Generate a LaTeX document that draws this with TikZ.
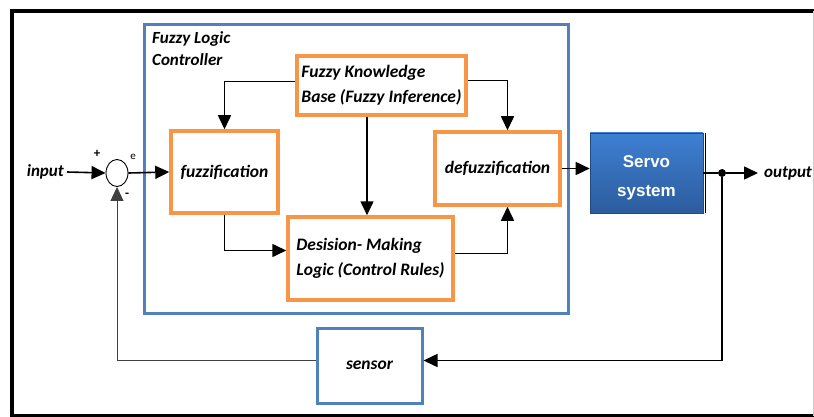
\documentclass[tikz,border=0pt]{standalone}
\usepackage{fontspec}
\setmainfont{Carlito}
\newfontfamily\servofont{Liberation Sans}
\usetikzlibrary{arrows.meta,calc,shapes.geometric}
\definecolor{orng}{HTML}{F79646}
\definecolor{bluel}{HTML}{4F81BD}
\definecolor{servotop}{HTML}{3E80D2}
\definecolor{servobot}{HTML}{2C5C9E}
\tikzset{
  obox/.style={draw=orng, line width=3.5pt, fill=white, align=left,
    font=\fontsize{17.5}{25}\selectfont\bfseries\itshape, inner sep=4pt},
  lbl/.style={font=\fontsize{17}{22}\selectfont\bfseries\itshape, inner sep=0pt},
  arr/.style={line width=1.6pt, -{Triangle[length=14pt,width=13pt]}},
  ln/.style={line width=1.6pt},
  fb/.style={line width=1pt, draw=black!75, -{Triangle[length=14pt,width=13pt]}},
  sgn/.style={font=\fontsize{13}{13}\selectfont\bfseries, inner sep=0pt}
}
\begin{document}
\begin{tikzpicture}[x=1pt,y=-1pt]
\useasboundingbox (0,0) rectangle (814,417);
% outer frame
\draw[line width=4pt] (814,11) -- (12,11) -- (12,415.5) -- (814,415.5);
\draw[line width=0.6pt, black!20] (813,11) -- (813,415.5);
% FLC container
\draw[draw=bluel, line width=3pt] (144,25) rectangle (568,313);
\node[lbl, align=left, anchor=north west] (title) at (152,31) {Fuzzy Logic\\Controller};
% blocks
\node[obox, minimum width=169, minimum height=59] (kb) at (381.5,85.5) {Fuzzy Knowledge\\Base (Fuzzy Inference)};
\node[obox, minimum width=107, minimum height=82] (fuzz) at (224.5,172) {fuzzification};
\node[obox, minimum width=125, minimum height=73] (defuzz) at (497.5,168.5) {defuzzification};
\node[obox, minimum width=165, minimum height=83] (dec) at (370.5,258.5) {Desision- Making\\Logic (Control Rules)};
\node[draw=servobot!80!black, line width=0.6pt, top color=servotop, bottom color=servobot,
  minimum width=113, minimum height=80,
  label={[text=white, align=center, yshift=-5pt, font=\servofont\fontsize{17}{29}\selectfont\bfseries]center:{Servo\\system}}] (servo) at (646.5,173) {};
\draw[line width=1pt] ([xshift=2.5pt]servo.north east) -- ([xshift=2.5pt]servo.south east);
\node[draw=bluel, line width=3pt, fill=white, minimum width=105, minimum height=75,
  font=\fontsize{17.5}{20}\selectfont\bfseries\itshape] (sensor) at (369.5,365.5) {sensor};
% summing junction
\node[draw, ellipse, line width=0.9pt, minimum width=22, minimum height=27, inner sep=0pt] (sum) at (117,173) {};
\node[sgn] (plus) at (97,154) {+};
\node[sgn] (minus) at (127,195) {-};
\node[sgn, font=\fontsize{11}{11}\selectfont] (eee) at (133,157) {e};
% input / output
\node[lbl, anchor=east] (in) at (64,172) {input};
\node[fill, circle, inner sep=0pt, minimum size=8pt] (tap) at (722,173) {};
\node[lbl, anchor=west] (out) at (764,173) {output};
% connectors
\draw[arr] ([xshift=3pt]in.east) -- (sum.west);
\draw[arr] (sum.east) -- (fuzz.west);
\draw[arr] (fuzz.south) |- ([yshift=8pt]dec.west);
\draw[arr] ([yshift=4pt]kb.west) -| (fuzz.north);
\draw[arr] ([yshift=5pt]kb.east) -| ($(defuzz.north)+(10,0)$);
\draw[arr] ($(kb.south)+(-14.5,0)$) -- ($(dec.north)+(-3.5,0)$);
\draw[arr] ([yshift=5pt]dec.east) -| ($(defuzz.south)+(10,0)$);
\draw[arr] (defuzz.east) -- (servo.west |- defuzz.east);
\draw[ln] (servo.east) -- (tap);
\draw[arr, shorten >=6pt] (tap) -- (out.west);
\draw[arr] (tap) |- ([yshift=5pt]sensor.east);
\draw[fb] ([yshift=5pt]sensor.west) -| (sum.south);
\end{tikzpicture}
\end{document}
